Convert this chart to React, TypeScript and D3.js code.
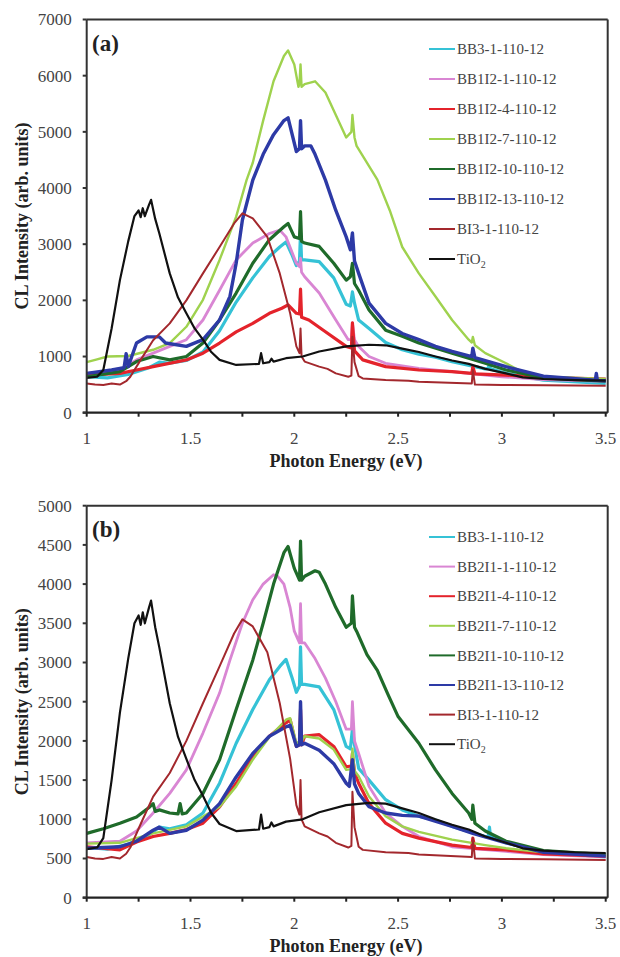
import React from "react";
import * as d3 from "d3";

type Pt = [number, number];

// photon energy (eV), CL intensity (arb. units)
const tio2: Pt[] = [
  [1.0, 620], [1.05, 640], [1.08, 760], [1.12, 1500], [1.16, 2360], [1.2, 3050], [1.23, 3500],
  [1.25, 3600], [1.26, 3480], [1.27, 3640], [1.28, 3500], [1.3, 3700], [1.31, 3790], [1.33, 3450],
  [1.35, 3190], [1.4, 2480], [1.44, 2050], [1.48, 1770], [1.52, 1500], [1.56, 1300], [1.6, 1080],
  [1.64, 940], [1.72, 850], [1.83, 870], [1.84, 1060], [1.85, 880], [1.88, 900], [1.89, 960],
  [1.9, 910], [1.96, 970], [2.04, 1000], [2.12, 1090], [2.25, 1180], [2.36, 1210], [2.44, 1200],
  [2.52, 1140], [2.6, 1080], [2.68, 1000], [2.76, 930], [2.84, 870], [2.92, 780], [3.02, 700],
  [3.1, 630], [3.2, 600], [3.35, 580], [3.5, 570],
];

const bi3: Pt[] = [
  [1.0, 520], [1.04, 500], [1.08, 495], [1.12, 520], [1.16, 500], [1.19, 560], [1.21, 640],
  [1.26, 940], [1.32, 1290], [1.4, 1590], [1.48, 2000], [1.56, 2480], [1.64, 2950], [1.71, 3370],
  [1.75, 3550], [1.8, 3460], [1.87, 3130], [1.93, 2480], [1.98, 1770], [2.01, 1180], [2.025, 1060],
  [2.03, 1500], [2.035, 1000], [2.05, 910], [2.12, 820], [2.16, 780], [2.2, 700], [2.26, 640],
  [2.275, 660], [2.28, 1350], [2.29, 900], [2.31, 650], [2.33, 610], [2.44, 580], [2.55, 570],
  [2.6, 550], [2.855, 520], [2.86, 760], [2.87, 500], [3.0, 495], [3.2, 490], [3.5, 480],
];

const bb3: Pt[] = [
  [1.0, 640], [1.1, 620], [1.2, 680], [1.3, 800], [1.35, 900], [1.4, 880], [1.48, 930],
  [1.56, 1080], [1.64, 1460], [1.72, 1970], [1.8, 2400], [1.88, 2780], [1.93, 2950], [1.96, 3040],
  [1.99, 2800], [2.01, 2620], [2.025, 2700], [2.03, 3200], [2.035, 2720], [2.05, 2720],
  [2.12, 2690], [2.19, 2400], [2.25, 1930], [2.27, 1900], [2.28, 2150], [2.29, 1950], [2.31, 1650],
  [2.36, 1500], [2.44, 1250], [2.52, 1120], [2.6, 1040], [2.68, 990], [2.76, 910], [2.92, 780],
  [2.935, 790], [2.94, 900], [2.945, 780], [3.02, 700], [3.2, 580], [3.5, 520],
];

// panel (a)
const a1: Pt[] = [
  [1.0, 700], [1.16, 760], [1.24, 940], [1.32, 1060], [1.4, 1180], [1.48, 1300], [1.56, 1650],
  [1.64, 2180], [1.72, 2720], [1.8, 3020], [1.88, 3190], [1.93, 3250], [1.96, 3130], [2.01, 2660],
  [2.025, 2600], [2.03, 2750], [2.035, 2500], [2.05, 2420], [2.12, 2130], [2.2, 1650], [2.26, 1300],
  [2.275, 1300], [2.28, 1600], [2.29, 1300], [2.31, 1180], [2.36, 1000], [2.44, 880], [2.6, 790],
  [2.76, 730], [3.0, 640], [3.2, 590], [3.5, 560],
];

const a4: Pt[] = [
  [1.0, 670], [1.16, 700], [1.24, 760], [1.32, 820], [1.48, 940], [1.56, 1060], [1.64, 1240],
  [1.72, 1440], [1.8, 1590], [1.88, 1770], [1.94, 1860], [1.97, 1920], [2.01, 1770], [2.025, 1760],
  [2.03, 2200], [2.035, 1700], [2.07, 1650], [2.15, 1440], [2.25, 1180], [2.275, 1150],
  [2.28, 1600], [2.29, 1100], [2.33, 940], [2.44, 820], [2.6, 760], [2.76, 730], [2.855, 700],
  [2.86, 820], [2.87, 690], [3.02, 670], [3.2, 630], [3.5, 600],
];

const a7: Pt[] = [
  [1.0, 900], [1.05, 950], [1.1, 1000], [1.2, 1010], [1.32, 1120], [1.4, 1240], [1.48, 1530],
  [1.56, 2010], [1.64, 2720], [1.72, 3490], [1.77, 4140], [1.8, 4450], [1.85, 5200], [1.9, 5900],
  [1.95, 6350], [1.97, 6450], [2.0, 6200], [2.02, 5800], [2.025, 5850], [2.03, 6200], [2.035, 5800],
  [2.05, 5850], [2.1, 5900], [2.15, 5700], [2.2, 5300], [2.25, 4900], [2.275, 5000], [2.28, 5300],
  [2.29, 4900], [2.3, 4750], [2.4, 4150], [2.46, 3600], [2.52, 2950], [2.6, 2480], [2.68, 2070],
  [2.76, 1650], [2.84, 1300], [2.855, 1250], [2.86, 1350], [2.87, 1200], [2.92, 1060], [3.02, 880],
  [3.1, 720], [3.2, 640], [3.5, 600],
];

const a10: Pt[] = [
  [1.0, 640], [1.16, 730], [1.24, 910], [1.32, 1000], [1.4, 940], [1.48, 1000], [1.56, 1240],
  [1.64, 1650], [1.72, 2130], [1.8, 2660], [1.88, 3080], [1.95, 3310], [1.97, 3370], [2.0, 3130],
  [2.025, 3100], [2.03, 3580], [2.035, 3050], [2.05, 3020], [2.12, 2960], [2.19, 2660], [2.25, 2360],
  [2.27, 2420], [2.28, 2660], [2.29, 2300], [2.31, 2180], [2.36, 1830], [2.44, 1470], [2.52, 1360],
  [2.6, 1240], [2.76, 1060], [2.92, 880], [3.02, 760], [3.2, 620], [3.5, 560],
];

const a13: Pt[] = [
  [1.0, 700], [1.12, 760], [1.18, 800], [1.19, 1050], [1.2, 820], [1.24, 1240], [1.29, 1350],
  [1.35, 1350], [1.38, 1240], [1.48, 1180], [1.56, 1300], [1.64, 1650], [1.69, 2070], [1.72, 2660],
  [1.75, 3430], [1.8, 4140], [1.85, 4600], [1.9, 4950], [1.95, 5200], [1.97, 5250], [2.01, 4650],
  [2.025, 4700], [2.03, 5200], [2.035, 4700], [2.05, 4750], [2.08, 4750], [2.1, 4600], [2.15, 4140],
  [2.2, 3600], [2.25, 3130], [2.27, 2900], [2.28, 3200], [2.29, 2700], [2.31, 2480], [2.36, 1950],
  [2.44, 1590], [2.52, 1410], [2.6, 1300], [2.68, 1180], [2.76, 1090], [2.855, 1000], [2.86, 1150],
  [2.87, 980], [3.02, 820], [3.2, 650], [3.45, 580], [3.455, 700], [3.46, 575], [3.5, 570],
];

// panel (b)
const b1: Pt[] = [
  [1.0, 700], [1.16, 720], [1.24, 850], [1.32, 1080], [1.4, 1330], [1.48, 1630], [1.56, 2100],
  [1.64, 2610], [1.69, 3030], [1.75, 3500], [1.8, 3800], [1.85, 4000], [1.9, 4120], [1.92, 4100],
  [1.95, 4000], [1.98, 3700], [2.0, 3400], [2.025, 3250], [2.03, 3750], [2.035, 3250], [2.05, 3250],
  [2.1, 3050], [2.15, 2800], [2.2, 2500], [2.25, 2150], [2.275, 2150], [2.28, 2500], [2.29, 2000],
  [2.31, 1840], [2.36, 1420], [2.44, 1080], [2.52, 910], [2.6, 780], [2.76, 650], [3.02, 590],
  [3.2, 550], [3.5, 520],
];

const b4: Pt[] = [
  [1.0, 650], [1.16, 610], [1.24, 710], [1.32, 780], [1.4, 820], [1.48, 870], [1.56, 950],
  [1.64, 1160], [1.72, 1460], [1.8, 1800], [1.88, 2060], [1.96, 2230], [1.98, 2270], [2.01, 1930],
  [2.025, 1950], [2.03, 2400], [2.035, 1950], [2.05, 2060], [2.12, 2080], [2.19, 1930], [2.25, 1670],
  [2.275, 1680], [2.28, 1840], [2.29, 1600], [2.31, 1460], [2.36, 1200], [2.44, 950], [2.52, 820],
  [2.6, 760], [2.76, 670], [2.855, 640], [2.86, 760], [2.87, 630], [3.02, 610], [3.2, 560],
  [3.5, 530],
];

const b7: Pt[] = [
  [1.0, 690], [1.16, 700], [1.32, 820], [1.48, 910], [1.64, 1160], [1.72, 1420], [1.8, 1760],
  [1.88, 2050], [1.96, 2270], [1.98, 2290], [2.01, 1970], [2.025, 1990], [2.03, 2450], [2.035, 1990],
  [2.05, 2060], [2.12, 2030], [2.19, 1890], [2.25, 1630], [2.275, 1640], [2.28, 1900], [2.29, 1620],
  [2.31, 1550], [2.36, 1290], [2.44, 1040], [2.52, 910], [2.6, 840], [2.76, 740], [2.92, 670],
  [3.02, 630], [3.2, 580], [3.5, 540],
];

const b10: Pt[] = [
  [1.0, 820], [1.08, 880], [1.16, 950], [1.24, 1030], [1.3, 1150], [1.32, 1200], [1.33, 1100],
  [1.35, 1120], [1.4, 1080], [1.44, 1070], [1.45, 1200], [1.46, 1070], [1.48, 1080], [1.56, 1330],
  [1.64, 1760], [1.72, 2400], [1.8, 3030], [1.85, 3500], [1.9, 4000], [1.95, 4400], [1.97, 4480],
  [2.0, 4200], [2.025, 4050], [2.03, 4550], [2.035, 4050], [2.05, 4100], [2.1, 4170], [2.12, 4150],
  [2.15, 4000], [2.2, 3700], [2.25, 3450], [2.275, 3500], [2.28, 3850], [2.29, 3450], [2.3, 3400],
  [2.35, 3100], [2.4, 2900], [2.45, 2600], [2.5, 2310], [2.6, 1970], [2.68, 1630], [2.76, 1330],
  [2.84, 1080], [2.855, 1000], [2.86, 1180], [2.87, 950], [2.92, 850], [3.02, 720], [3.2, 600],
  [3.5, 550],
];

const b13: Pt[] = [
  [1.0, 630], [1.16, 650], [1.24, 720], [1.32, 860], [1.35, 900], [1.4, 820], [1.48, 860],
  [1.56, 990], [1.64, 1200], [1.72, 1540], [1.8, 1840], [1.88, 2060], [1.96, 2180], [1.98, 2200],
  [2.01, 1930], [2.025, 1950], [2.03, 2500], [2.035, 1950], [2.05, 1970], [2.12, 1880], [2.19, 1710],
  [2.25, 1460], [2.265, 1420], [2.28, 1760], [2.29, 1450], [2.31, 1330], [2.36, 1160], [2.44, 1080],
  [2.52, 1050], [2.6, 1040], [2.76, 910], [2.86, 820], [3.02, 700], [3.2, 580], [3.5, 530],
];

const labelsA = [
  "BB3-1-110-12", "BB1I2-1-110-12", "BB1I2-4-110-12", "BB1I2-7-110-12",
  "BB1I2-10-110-12", "BB1I2-13-110-12", "BI3-1-110-12", "TiO2",
];
const labelsB = [
  "BB3-1-110-12", "BB2I1-1-110-12", "BB2I1-4-110-12", "BB2I1-7-110-12",
  "BB2I1-10-110-12", "BB2I1-13-110-12", "BI3-1-110-12", "TiO2",
];
const seriesA = [bb3, a1, a4, a7, a10, a13, bi3, tio2];
const seriesB = [bb3, b1, b4, b7, b10, b13, bi3, tio2];

const colors = ["#35c2d6", "#d986d3", "#e4232b", "#9fd24e", "#1f6b2a", "#2d3aa6", "#a3282d", "#111111"];
const widths = [3.2, 2.8, 3.2, 2.4, 3.2, 3.4, 2, 2.2];

const xTicks = [1, 1.5, 2, 2.5, 3, 3.5];
const xMinor = [1.25, 1.75, 2.25, 2.75, 3.25];

const serif = { fontFamily: "Liberation Serif, DejaVu Serif, serif" };

type PanelProps = {
  top: number;
  bottom: number;
  yMax: number;
  yStep: number;
  tag: string;
  labels: string[];
  series: Pt[][];
  legendTop: number;
  legendGap: number;
};

function Panel({ top, bottom, yMax, yStep, tag, labels, series, legendTop, legendGap }: PanelProps) {
  const left = 86.7;
  const right = 605.7;
  const x = d3.scaleLinear().domain([1, 3.5]).range([left, right]);
  const y = d3.scaleLinear().domain([0, yMax]).range([bottom, top]);
  const line = d3
    .line<Pt>()
    .x((d) => x(d[0]))
    .y((d) => y(d[1]))
    .curve(d3.curveLinear);
  const yTicks = d3.range(0, yMax + 1, yStep);
  const mid = (top + bottom) / 2;

  return (
    <g style={serif}>
      <defs>
        <clipPath id={"clip-" + tag}>
          <rect x={left} y={top} width={right - left + 2} height={bottom - top} />
        </clipPath>
      </defs>
      <g clipPath={`url(#clip-${tag})`}>
        {series.map((s, i) => (
          <path
            key={i}
            d={line(s) || ""}
            fill="none"
            stroke={colors[i]}
            strokeWidth={widths[i]}
            strokeLinejoin="round"
          />
        ))}
      </g>

      {/* frame */}
      <line x1={left} x2={right + 2} y1={top} y2={top} stroke="#333" strokeWidth={2} />
      <line x1={right + 2} x2={right + 2} y1={top} y2={bottom} stroke="#333" strokeWidth={2} />
      <line x1={left} x2={left} y1={top} y2={bottom} stroke="#333" strokeWidth={2} />
      <line x1={left - 4} x2={right + 2} y1={bottom} y2={bottom} stroke="#222" strokeWidth={2.2} />

      {yTicks.map((t) => (
        <g key={t}>
          <line x1={left - 4} x2={left} y1={y(t)} y2={y(t)} stroke="#333" strokeWidth={2} />
          <text x={left - 15} y={y(t)} dy="0.35em" textAnchor="end" fontSize={17} fill="#444">
            {t}
          </text>
        </g>
      ))}
      {xTicks.concat(xMinor).map((t) => (
        <line key={t} x1={x(t)} x2={x(t)} y1={bottom} y2={bottom + 4} stroke="#222" strokeWidth={2} />
      ))}
      {xTicks.map((t) => (
        <text key={t} x={x(t)} y={bottom + 31} textAnchor="middle" fontSize={17} fill="#444">
          {t}
        </text>
      ))}
      <text x={346} y={bottom + 54} textAnchor="middle" fontSize={18} fontWeight="bold" fill="#222">
        Photon Energy (eV)
      </text>
      <text
        transform={`translate(28,${mid}) rotate(-90)`}
        textAnchor="middle"
        fontSize={18}
        fontWeight="bold"
        fill="#222"
      >
        CL Intensity (arb. units)
      </text>
      <text x={92} y={top + 31} fontSize={23} fontWeight="bold" fill="#222">
        {"(" + tag + ")"}
      </text>

      {labels.map((lab, i) => {
        const ly = legendTop + i * legendGap;
        return (
          <g key={lab}>
            <line x1={429} x2={455} y1={ly} y2={ly} stroke={colors[i]} strokeWidth={2} />
            <text x={457} y={ly} dy="0.35em" fontSize={15} fill="#444">
              {lab === "TiO2" ? (
                <>
                  TiO
                  <tspan fontSize={10} dy="4">
                    2
                  </tspan>
                </>
              ) : (
                lab
              )}
            </text>
          </g>
        );
      })}
    </g>
  );
}

export default function App() {
  return (
    <svg
      width={620}
      height={957}
      style={{ position: "absolute", left: 0, top: 0, background: "#fff" }}
    >
      <rect width={620} height={957} fill="#fff" />
      <Panel
        top={19.5}
        bottom={412.7}
        yMax={7000}
        yStep={1000}
        tag="a"
        labels={labelsA}
        series={seriesA}
        legendTop={49}
        legendGap={30}
      />
      <Panel
        top={505.7}
        bottom={897.7}
        yMax={5000}
        yStep={500}
        tag="b"
        labels={labelsB}
        series={seriesB}
        legendTop={537}
        legendGap={29.6}
      />
    </svg>
  );
}
